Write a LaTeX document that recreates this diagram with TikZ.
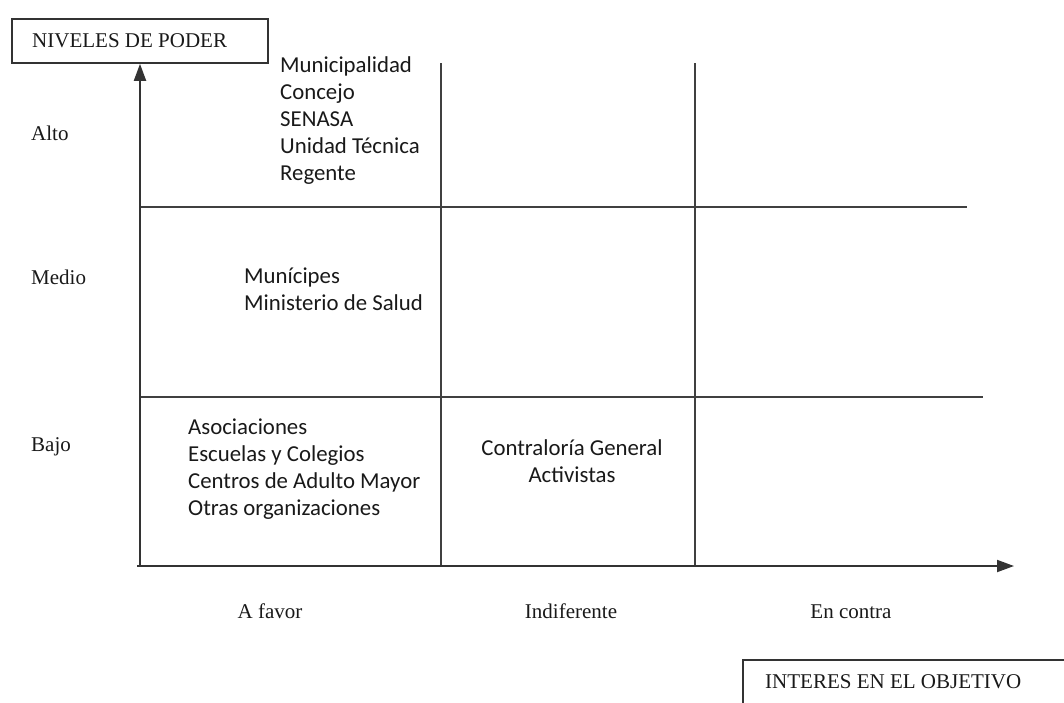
\documentclass[tikz,border=0pt]{standalone}
\usepackage{fontspec}
\setmainfont{Liberation Serif}
\newfontfamily\calib{Carlito}
\usetikzlibrary{arrows.meta}
\begin{document}
\begin{tikzpicture}[x=1pt,y=-1pt,
  axisline/.style={draw=black!80, line width=1.9pt, -{Triangle[length=17pt,width=12pt]}},
  gridline/.style={draw=black!75, line width=1.9pt},
  boxline/.style={draw=black!80, line width=1.6pt},
  serif/.style={font=\fontsize{21}{24}\selectfont, inner sep=0pt, text=black!90, anchor=base},
  actor/.style={font=\calib\fontsize{22.8}{27}\selectfont, align=left, inner sep=0pt, anchor=west, text=black!90},
  actorc/.style={font=\calib\fontsize{22.8}{27}\selectfont, align=center, inner sep=0pt, text=black!90}
]
\useasboundingbox (0,0) rectangle (1064,702);

% title boxes
\node[boxline, minimum width=256pt, minimum height=44pt, inner sep=0pt] (poder) at (140,41) {};
\node[serif, anchor=base west] (podert) at (32,47) {NIVELES DE PODER};
\draw[boxline] (743,660) rectangle (1110,730);
\node[serif, anchor=base west] (interes) at (765,688) {INTERES EN EL OBJETIVO};

% grid coordinates
\coordinate (o) at (140,566);
\coordinate (ox) at (137,566);
\coordinate (xend) at (1014,566);
\coordinate (h1a) at (140,207);
\coordinate (h1b) at (967,207);
\coordinate (h2a) at (140,397);
\coordinate (h2b) at (983,397);
\coordinate (v1a) at (441,63);
\coordinate (v1b) at (441,566);
\coordinate (v2a) at (695,63);
\coordinate (v2b) at (695,566);

\draw[gridline] (h1a) -- (h1b);
\draw[gridline] (h2a) -- (h2b);
\draw[gridline] (v1a) -- (v1b);
\draw[gridline] (v2a) -- (v2b);
\draw[axisline] (ox) -- (xend);
\draw[axisline] (o) -- (poder.south);

% row labels
\node[serif, anchor=base west] (alto) at (31,140) {Alto};
\node[serif, anchor=base west] (medio) at (31,284) {Medio};
\node[serif, anchor=base west] (bajo) at (31,451) {Bajo};

% column labels
\node[serif] (afavor) at (270,618) {A favor};
\node[serif] (indif) at (571,618) {Indiferente};
\node[serif] (encontra) at (851,618) {En contra};

% actors
\node[actor] (alto1) at (280,120.5) {Municipalidad\\Concejo\\SENASA\\Unidad Técnica\\Regente};
\node[actor] (medio1) at (244,289.5) {Munícipes\\Ministerio de Salud};
\node[actor] (bajo1) at (188,469) {Asociaciones\\Escuelas y Colegios\\Centros de Adulto Mayor\\Otras organizaciones};
\node[actorc] (bajo2) at (572,461) {Contraloría General\\Activistas};
\end{tikzpicture}
\end{document}
